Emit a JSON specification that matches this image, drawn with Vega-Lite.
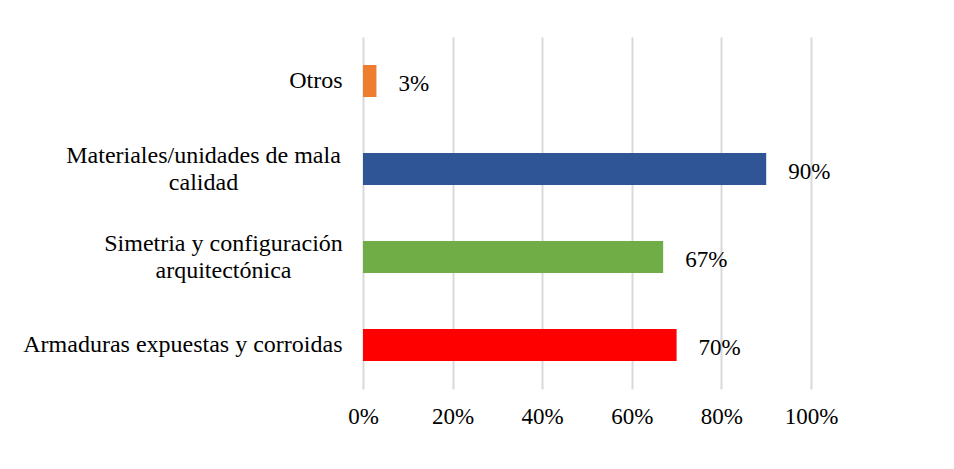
{
  "$schema": "https://vega.github.io/schema/vega-lite/v6.json",
  "width": 448,
  "height": 352,
  "autosize": {"type": "none"},
  "padding": {"left": 363, "top": 37, "right": 143, "bottom": 80},
  "background": "white",
  "config": {
    "view": {"stroke": null},
    "font": "Liberation Serif",
    "text": {"font": "Liberation Serif"}
  },
  "data": {
    "values": [
      {"causa": "Otros", "valor": 0.03, "color": "#ED7D31"},
      {"causa": "Materiales/unidades de mala|calidad", "valor": 0.9, "color": "#2F5597"},
      {"causa": "Simetria y configuración|arquitectónica", "valor": 0.67, "color": "#70AD47"},
      {"causa": "Armaduras expuestas y corroidas", "valor": 0.7, "color": "#FF0000"}
    ]
  },
  "encoding": {
    "y": {
      "field": "causa",
      "type": "nominal",
      "sort": null,
      "title": null,
      "scale": {"paddingInner": 0.636, "paddingOuter": 0.318},
      "axis": {
        "domain": false,
        "ticks": false,
        "tickSize": 0,
        "labelFont": "Liberation Serif",
        "labelFontSize": 24,
        "labelColor": "#000000",
        "labelLimit": 400,
        "labelLineHeight": 27,
        "labelExpr": "split(datum.value, '|')",
        "labelAlign": {"condition": {"test": "indexof(datum.value, '|') >= 0", "value": "center"}, "value": "right"},
        "labelPadding": {"condition": [
          {"test": "indexof(datum.value, 'Materiales') >= 0", "value": 160},
          {"test": "indexof(datum.value, 'Simetria') >= 0", "value": 140}
        ], "value": 21},
        "labelOffset": {"condition": {"test": "indexof(datum.value, '|') >= 0", "value": -13}, "value": 0}
      }
    },
    "x": {
      "field": "valor",
      "type": "quantitative",
      "title": null,
      "scale": {"domain": [0, 1], "nice": false},
      "axis": {
        "values": [0, 0.2, 0.4, 0.6, 0.8, 1],
        "format": ".0%",
        "domain": false,
        "ticks": false,
        "tickSize": 0,
        "grid": true,
        "gridColor": "#D9D9D9",
        "gridWidth": 2,
        "labelFlush": false,
        "labelPadding": 16,
        "labelFont": "Liberation Serif",
        "labelFontSize": 23,
        "labelColor": "#000000"
      }
    }
  },
  "layer": [
    {
      "mark": {"type": "bar"},
      "encoding": {
        "color": {"field": "color", "type": "nominal", "scale": null, "legend": null}
      }
    },
    {
      "mark": {"type": "text", "align": "left", "baseline": "middle", "dx": 22, "dy": 3, "fontSize": 23, "color": "#000000"},
      "encoding": {
        "text": {"field": "valor", "type": "quantitative", "format": ".0%"}
      }
    }
  ]
}
